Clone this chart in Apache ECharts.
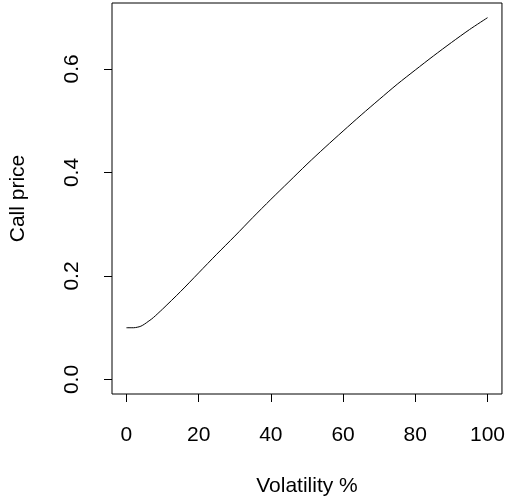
<!DOCTYPE html>
<html>
<head>
<meta charset="utf-8">
<script src="https://cdn.jsdelivr.net/npm/echarts@6/dist/echarts.min.js"></script>
<style>
  html, body { margin: 0; padding: 0; background: #fff; }
  #chart { width: 508px; height: 502px; }
</style>
</head>
<body>
<div id="chart"></div>
<script>
// volatility in %, call price
const volatility = [0, 1, 2, 3, 4, 5, 6, 7, 8, 9, 10, 15, 20, 25, 30, 35, 40, 45, 50, 55, 60, 65, 70, 75, 80, 85, 90, 95, 100];
const callPrice = [0.1, 0.1, 0.1, 0.101, 0.103, 0.107, 0.112, 0.117, 0.123, 0.1295, 0.136, 0.170, 0.206, 0.242, 0.277, 0.313, 0.348, 0.382, 0.416, 0.4485, 0.480, 0.511, 0.541, 0.5705, 0.598, 0.625, 0.651, 0.676, 0.699];
const xTicks = [0, 20, 40, 60, 80, 100];
const yTicks = [0, 0.2, 0.4, 0.6];

const font = "Liberation Sans, Arial, sans-serif";

let chart = echarts.init(document.getElementById("chart"));
let option = {
  animation: false,
  backgroundColor: "#fff",
  grid: {
    left: 111,
    top: 3,
    right: 5,
    bottom: 107,
    show: true,
    borderColor: "#000",
    borderWidth: 1,
    backgroundColor: "transparent"
  },
  xAxis: {
    type: "value",
    min: -4,
    max: 104,
    name: "Volatility %",
    nameLocation: "middle",
    nameGap: 82,
    nameTextStyle: { color: "#000", fontSize: 21, fontFamily: font },
    axisLine: { show: false, onZero: false },
    axisTick: {
      show: true,
      inside: false,
      length: 8,
      customValues: xTicks,
      lineStyle: { color: "#000", width: 1 }
    },
    axisLabel: {
      customValues: xTicks,
      color: "#000",
      fontSize: 21,
      fontFamily: font,
      margin: 31
    },
    splitLine: { show: false }
  },
  yAxis: {
    type: "value",
    min: -0.028,
    max: 0.7274,
    name: "Call price",
    nameLocation: "middle",
    nameGap: 83,
    nameRotate: 90,
    nameTextStyle: { color: "#000", fontSize: 21, fontFamily: font },
    axisLine: { show: false, onZero: false },
    axisTick: {
      show: true,
      inside: false,
      length: 8,
      customValues: yTicks,
      lineStyle: { color: "#000", width: 1 }
    },
    axisLabel: {
      customValues: yTicks,
      color: "#000",
      fontSize: 21,
      fontFamily: font,
      rotate: 90,
      margin: 29,
      formatter: function (v) { return v.toFixed(1); }
    },
    splitLine: { show: false }
  },
  series: [
    {
      type: "line",
      data: volatility.map((v, i) => [v, callPrice[i]]),
      smooth: 0.3,
      symbol: "none",
      lineStyle: { color: "#000", width: 1 }
    }
  ]
};
chart.setOption(option);
</script>
</body>
</html>
